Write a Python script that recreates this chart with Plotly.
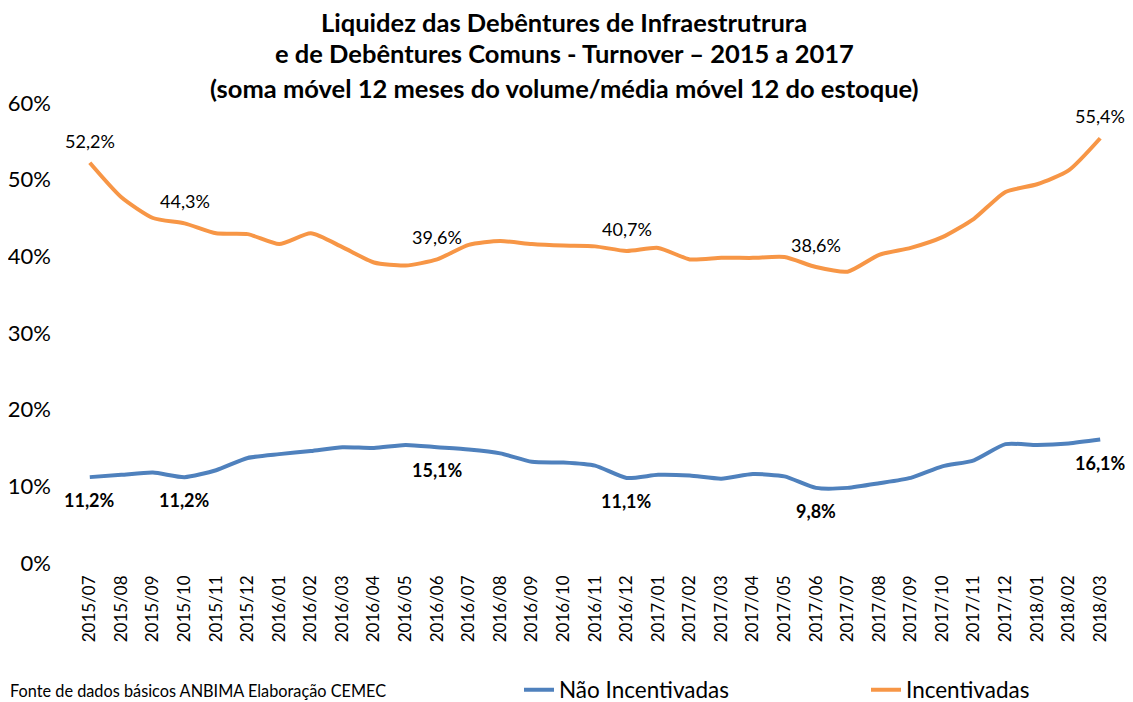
import plotly.graph_objects as go

categories = ["2015/07","2015/08","2015/09","2015/10","2015/11","2015/12",
              "2016/01","2016/02","2016/03","2016/04","2016/05","2016/06",
              "2016/07","2016/08","2016/09","2016/10","2016/11","2016/12",
              "2017/01","2017/02","2017/03","2017/04","2017/05","2017/06",
              "2017/07","2017/08","2017/09","2017/10","2017/11","2017/12",
              "2018/01","2018/02","2018/03"]

incentivadas = [52.2, 47.7, 45.0, 44.3, 43.0, 42.9, 41.6, 43.0, 41.2, 39.2, 38.8, 39.6,
                41.5, 42.0, 41.6, 41.4, 41.3, 40.7, 41.1, 39.6, 39.8, 39.8, 39.9, 38.6,
                38.0, 40.2, 41.1, 42.5, 44.9, 48.4, 49.4, 51.2, 55.4]

nao_incentivadas = [11.2, 11.5, 11.8, 11.2, 12.1, 13.7, 14.2, 14.6, 15.1, 15.0, 15.4, 15.1,
                    14.8, 14.3, 13.2, 13.1, 12.7, 11.1, 11.5, 11.4, 11.0, 11.6, 11.3, 9.8,
                    9.8, 10.4, 11.1, 12.6, 13.4, 15.5, 15.4, 15.6, 16.1]

label_idx = [0, 3, 11, 17, 23, 32]

title_lines = ["Liquidez das Debêntures de Infraestrutrura",
               "e de Debêntures Comuns - Turnover – 2015 a 2017",
               "(soma móvel 12 meses do volume/média móvel 12 do estoque)"]
source_text = "Fonte de dados básicos ANBIMA Elaboração CEMEC"

FONT = "Lato"
BLUE = "#4F81BD"
ORANGE = "#F79646"
OFF = 8                      # page body margin offset
W, H = 1133 - OFF, 702 - OFF  # figure fits exactly in the window
# plot area in screen pixels: x 74..1116, y 103..563
ML, MT = 74 - OFF, 103 - OFF
MR, MB = 1133 - 1116, 702 - 563
PW, PH = W - ML - MR, H - MT - MB


def px_x(p):  # screen pixel -> paper
    return (p - OFF - ML) / PW


def px_y(p):
    return (MT + PH - (p - OFF)) / PH


def pct(v):
    return f"{v:.1f}%".replace(".", ",")


fig = go.Figure()
fig.add_trace(go.Scatter(x=categories, y=nao_incentivadas, name="Não Incentivadas",
                         mode="lines", legend="legend", showlegend=True,
                         line=dict(color=BLUE, width=4, shape="spline", smoothing=0.6)))
fig.add_trace(go.Scatter(x=categories, y=incentivadas, name="Incentivadas",
                         mode="lines", legend="legend2", showlegend=True,
                         line=dict(color=ORANGE, width=4, shape="spline", smoothing=0.6)))

annotations = []
for line, ypix in zip(title_lines, [21.5, 52.5, 88]):
    annotations.append(dict(text="<b>" + line + "</b>", xref="paper", yref="paper",
                            x=px_x(564), y=px_y(ypix), xanchor="center", yanchor="middle",
                            showarrow=False, font=dict(family=FONT, size=25.5, color="black")))
for i in label_idx:
    annotations.append(dict(text=pct(incentivadas[i]), x=categories[i], y=incentivadas[i],
                            xref="x", yref="y", yshift=22, showarrow=False,
                            xanchor="center", yanchor="middle",
                            font=dict(family=FONT, size=18, color="black")))
    annotations.append(dict(text="<b>" + pct(nao_incentivadas[i]) + "</b>", x=categories[i],
                            y=nao_incentivadas[i], xref="x", yref="y", yshift=-23,
                            showarrow=False, xanchor="center", yanchor="middle",
                            font=dict(family=FONT, size=18, color="black")))
annotations.append(dict(text=source_text, xref="paper", yref="paper",
                        x=px_x(OFF), y=px_y(702), xanchor="left", yanchor="bottom",
                        showarrow=False, font=dict(family=FONT, size=16.3, color="black")))

fig.update_layout(
    width=W, height=H,
    showlegend=True,
    paper_bgcolor="white", plot_bgcolor="white",
    margin=dict(l=ML, r=MR, t=MT, b=MB, autoexpand=False),
    font=dict(family=FONT, color="black"),
    xaxis=dict(type="category", range=[-0.5, len(categories) - 0.5],
               tickangle=-90, tickfont=dict(family=FONT, size=17, color="black"),
               showgrid=False, showline=False, ticks="", zeroline=False,
               ticklabelstandoff=8, automargin=False),
    yaxis=dict(range=[0, 60], dtick=10, ticksuffix="%",
               tickfont=dict(family=FONT, size=22, color="black"),
               showgrid=False, showline=False, ticks="", zeroline=False,
               ticklabelstandoff=22, automargin=False),
    legend=dict(orientation="h", x=px_x(519), y=px_y(690), xanchor="left", yanchor="middle",
                font=dict(family=FONT, size=22.5, color="black"), itemwidth=30,
                bgcolor="rgba(0,0,0,0)"),
    legend2=dict(orientation="h", x=px_x(866), y=px_y(690), xanchor="left", yanchor="middle",
                 font=dict(family=FONT, size=22.5, color="black"), itemwidth=30,
                 bgcolor="rgba(0,0,0,0)"),
    annotations=annotations,
)

fig.write_html("out.html")
